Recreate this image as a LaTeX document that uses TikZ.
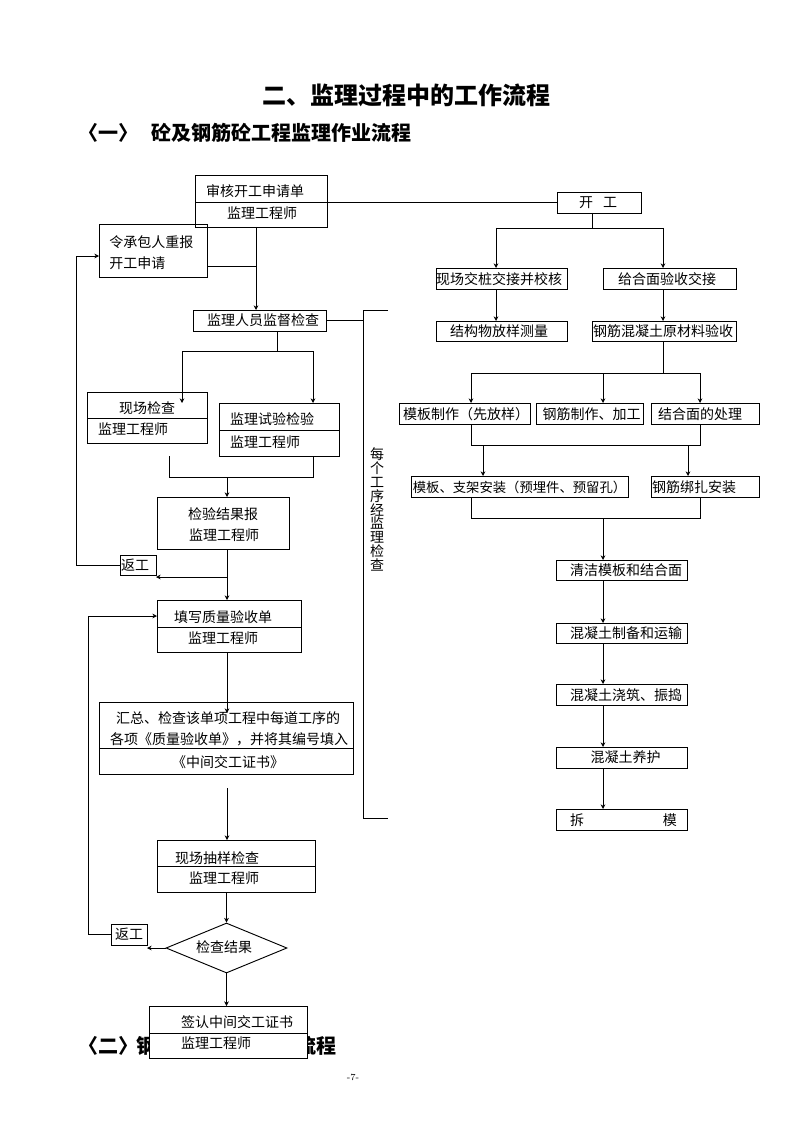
\documentclass[tikz,border=0pt]{standalone}
\usepackage{fontspec}
\newfontfamily\cjk{Noto Sans CJK SC}
\usetikzlibrary{arrows.meta,fit,shapes.geometric,calc}
\newcommand\boxfont{\cjk\fontsize{10.5pt}{12pt}\selectfont}
\tikzset{
 box/.style={draw, line width=0.7pt, inner sep=0pt, outer sep=0pt},
 tx/.style={inner sep=0pt, font=\boxfont},
 ln/.style={line width=0.7pt},
 arr/.style={line width=0.7pt, -{Stealth[length=3.5pt,width=3.5pt]}},
 hd/.style={inner sep=0pt, font={\cjk\bfseries\fontsize{15pt}{18pt}\selectfont}},
}
\begin{document}
\begin{tikzpicture}[x=0.75pt,y=-0.75pt]
\useasboundingbox (0,0) rectangle (794,1123);
% headings
\node[inner sep=0pt, font={\cjk\bfseries\fontsize{18pt}{20pt}\selectfont}] (title) at (406,95) {二、监理过程中的工作流程};
\node[hd, anchor=west] (s1a) at (78,133) {〈一〉};
\node[hd, anchor=west] (s1b) at (151,133) {砼及钢筋砼工程监理作业流程};
\node[hd, anchor=west] (s2a) at (78,1046) {〈二〉};
\node[hd, anchor=west] (s2b) at (136,1046) {钢};
\node[hd, anchor=west] (s2c) at (296,1046) {流程};
\node[inner sep=0pt, font=\fontsize{7pt}{8pt}\selectfont] (pg) at (353,1077) {-7-};

% left column boxes
\node[box, fit={(195,175) (327,227)}] (b1) {};
\draw[ln] ($(b1.north west)+(0,27)$) -- ($(b1.north east)+(0,27)$);
\node[tx] (b1t1) at (255,191) {审核开工申请单};
\node[tx] (b1t2) at (262,213) {监理工程师};

\node[box, fit={(99,224) (207,277)}] (b2) {};
\node[tx, anchor=west] (b2t1) at (109,242) {令承包人重报};
\node[tx, anchor=west] (b2t2) at (109,263) {开工申请};

\node[box, fit={(193,310) (326,331)}] (jc) {};
\node[tx] (jct) at (263,320.5) {监理人员监督检查};

\node[box, fit={(87,392) (207,443)}] (xc) {};
\draw[ln] ($(xc.north west)+(0,26)$) -- ($(xc.north east)+(0,26)$);
\node[tx] (xct1) at (147,408) {现场检查};
\node[tx] (xct2) at (133,429) {监理工程师};

\node[box, fit={(219,403) (339,456)}] (sy) {};
\draw[ln] ($(sy.north west)+(0,27)$) -- ($(sy.north east)+(0,27)$);
\node[tx] (syt1) at (272,419) {监理试验检验};
\node[tx] (syt2) at (265,442) {监理工程师};

\node[box, fit={(157,497) (289,549)}] (jg) {};
\node[tx] (jgt1) at (223,514) {检验结果报};
\node[tx] (jgt2) at (224,535) {监理工程师};

\node[box, fit={(120,555) (156,575)}] (rw1) {};
\node[tx] (rw1t) at (135,565.5) {返工};

\node[box, fit={(157,600) (301,652)}] (tx) {};
\draw[ln] ($(tx.north west)+(0,27)$) -- ($(tx.north east)+(0,27)$);
\node[tx] (txt1) at (223,617) {填写质量验收单};
\node[tx] (txt2) at (223,638) {监理工程师};

\node[box, fit={(99,702) (353,774)}] (hz) {};
\draw[ln] ($(hz.north west)+(0,46)$) -- ($(hz.north east)+(0,46)$);
\node[tx] (hzt1) at (228,718) {汇总、检查该单项工程中每道工序的};
\node[tx] (hzt2) at (229,739) {各项《质量验收单》，并将其编号填入};
\node[tx] (hzt3) at (228,762) {《中间交工证书》};

\node[box, fit={(157,840) (315,892)}] (ys) {};
\draw[ln] ($(ys.north west)+(0,26)$) -- ($(ys.north east)+(0,26)$);
\node[tx] (yst1) at (217,858) {现场抽样检查};
\node[tx] (yst2) at (224,878) {监理工程师};

\node[draw, diamond, line width=0.7pt, inner sep=0pt, minimum width=90.75pt, minimum height=37.5pt] (dm) at (226.5,948) {};
\node[tx] (dmt) at (224,947) {检查结果};

\node[box, fit={(111,924) (147,945)}] (rw2) {};
\node[tx] (rw2t) at (129,934.5) {返工};

\node[box, fill=white, fit={(149,1006) (307,1058)}] (qr) {};
\draw[ln] ($(qr.north west)+(0,27)$) -- ($(qr.north east)+(0,27)$);
\node[tx] (qrt1) at (237,1022) {签认中间交工证书};
\node[tx] (qrt2) at (216,1043) {监理工程师};

% vertical bracket text
\draw[ln] (388,310) -- (363,310) -- (363,818) -- (388,818);
\node[tx, align=center, font={\cjk\fontsize{10.5pt}{10.4pt}\selectfont\lineskiplimit=-20pt}] (vt) at (377,509.5) {每\\个\\工\\序\\经\\监\\理\\检\\查};

% right column boxes
\node[box, fit={(557,192) (641,213)}] (kg) {};
\node[tx] (kgt) at (598,203) {开\hspace{7.5pt}工};
\node[box, fit={(436,268) (567,289)}] (xz) {};
\node[tx] (xzt) at (499,279) {现场交桩交接并校核};
\node[box, fit={(603,268) (736,289)}] (gh) {};
\node[tx] (ght) at (667,279) {给合面验收交接};
\node[box, fit={(436,321) (567,341)}] (jgw) {};
\node[tx] (jgwt) at (499,331.5) {结构物放样测量};
\node[box, fit={(592,321) (736,341)}] (yc) {};
\node[tx] (yct) at (663,331.5) {钢筋混凝土原材料验收};
\node[box, fit={(399,403) (530,424)}] (mb) {};
\node[tx] (mbt) at (466,414) {模板制作（先放样）};
\node[box, fit={(536,403) (643,424)}] (gj) {};
\node[tx] (gjt) at (591.5,414) {钢筋制作、加工};
\node[box, fit={(651,403) (759,424)}] (jh) {};
\node[tx] (jht) at (700,414) {结合面的处理};
\node[box, fit={(411,476) (628,497)}] (mz) {};
\node[tx, font={\cjk\fontsize{10pt}{12pt}\selectfont}] (mzt) at (519.5,487) {模板、支架安装（预埋件、预留孔）};
\node[box, fit={(651,476) (759,497)}] (bz) {};
\node[tx] (bzt) at (694,487) {钢筋绑扎安装};
\node[box, fit={(556,560) (687,580)}] (qj) {};
\node[tx] (qjt) at (626,570.5) {清洁模板和结合面};
\node[box, fit={(556,623) (687,643)}] (zb) {};
\node[tx] (zbt) at (626,633.5) {混凝土制备和运输};
\node[box, fit={(556,684) (687,705)}] (jz) {};
\node[tx] (jzt) at (626,695) {混凝土浇筑、振捣};
\node[box, fit={(556,747) (687,768)}] (yh) {};
\node[tx] (yht) at (625.5,757.5) {混凝土养护};
\node[box, fit={(556,809) (687,830)}] (cm) {};
\node[tx] (cmt) at (623.5,820) {拆\hspace{59pt}模};

% ---- left connectors
\draw[ln] (kg.west -| b1.east) -- (kg.west);
\coordinate (j1) at (256,266);
\draw[arr] (b1.south -| j1) -- (jc.north -| j1);
\draw[ln] (b2.east |- j1) -- (j1);
\coordinate (lp1) at (76,256);
\draw[arr] (rw1.west) -| (lp1) -- (b2.west |- lp1);
\coordinate (br) at (363,320);
\draw[ln] (jc.east) -- (jc.east -| br);
\coordinate (s1) at (277,351);
\draw[ln] (jc.south -| s1) -- (s1);
\draw[arr] (s1) -| ($(xc.north west)+(95,11)$);
\draw[arr] (s1) -| ($(sy.north west)+(94,0)$);
\coordinate (m1) at (169,477);
\coordinate (m2) at (313,477);
\draw[ln] (m1 |- sy.south) -- (m1) -- (m2) -- (m2 |- sy.south);
\coordinate (cx) at (227,477);
\draw[arr] (cx) -- (cx |- jg.north);
\draw[arr] (jg.south -| cx) -- (tx.north -| cx);
\coordinate (rt1) at (227,577);
\draw[arr] (rt1) -- (rt1 -| rw1.east);
\coordinate (lp2) at (88,616);
\draw[arr] (rw2.west) -| (lp2) -- (tx.west |- lp2);
\draw[arr] (tx.south -| cx) -- ($(hz.north -| cx)+(0,11)$);
\coordinate (g1) at (227,788);
\draw[arr] (g1) -- (g1 |- ys.north);
\draw[arr] (ys.south -| dm.north) -- (dm.north);
\draw[arr] (dm.west) -- (dm.west -| rw2.east);
\draw[arr] (dm.south) -- (dm.south |- qr.north);

% ---- right connectors
\coordinate (k1) at (592,228);
\coordinate (kL) at (496,228);
\coordinate (kR) at (663,228);
\draw[ln] (kg.south -| k1) -- (k1);
\draw[ln] (kL) -- (kR);
\draw[arr] (kL) -- (kL |- xz.north);
\draw[arr] (kR) -- (kR |- gh.north);
\draw[arr] (xz.south -| kL) -- (jgw.north -| kL);
\draw[arr] (gh.south -| kR) -- (yc.north -| kR);
\coordinate (r1) at (663,373);
\coordinate (r1L) at (471,373);
\coordinate (r1M) at (603,373);
\coordinate (r1R) at (700,373);
\draw[ln] (yc.south -| r1) -- (r1);
\draw[ln] (r1L) -- (r1R);
\draw[arr] (r1L) -- (r1L |- mb.north);
\draw[arr] (r1M) -- (r1M |- gj.north);
\draw[arr] (r1R) -- (r1R |- jh.north);
\coordinate (r2L) at (471,445);
\coordinate (r2R) at (700,445);
\coordinate (a1) at (483,445);
\coordinate (a2) at (688,445);
\draw[ln] (mb.south -| r2L) -- (r2L) -- (r2R) -- (jh.south -| r2R);
\draw[arr] (a1) -- (a1 |- mz.north);
\draw[arr] (a2) -- (a2 |- bz.north);
\coordinate (r3L) at (471,518);
\coordinate (r3R) at (700,518);
\coordinate (a3) at (603,518);
\draw[ln] (mz.south -| r3L) -- (r3L) -- (r3R) -- (bz.south -| r3R);
\draw[arr] (a3) -- (a3 |- qj.north);
\draw[arr] (qj.south -| a3) -- (zb.north -| a3);
\draw[arr] (zb.south -| a3) -- (jz.north -| a3);
\draw[arr] (jz.south -| a3) -- (yh.north -| a3);
\draw[arr] (yh.south -| a3) -- (cm.north -| a3);
\end{tikzpicture}
\end{document}
